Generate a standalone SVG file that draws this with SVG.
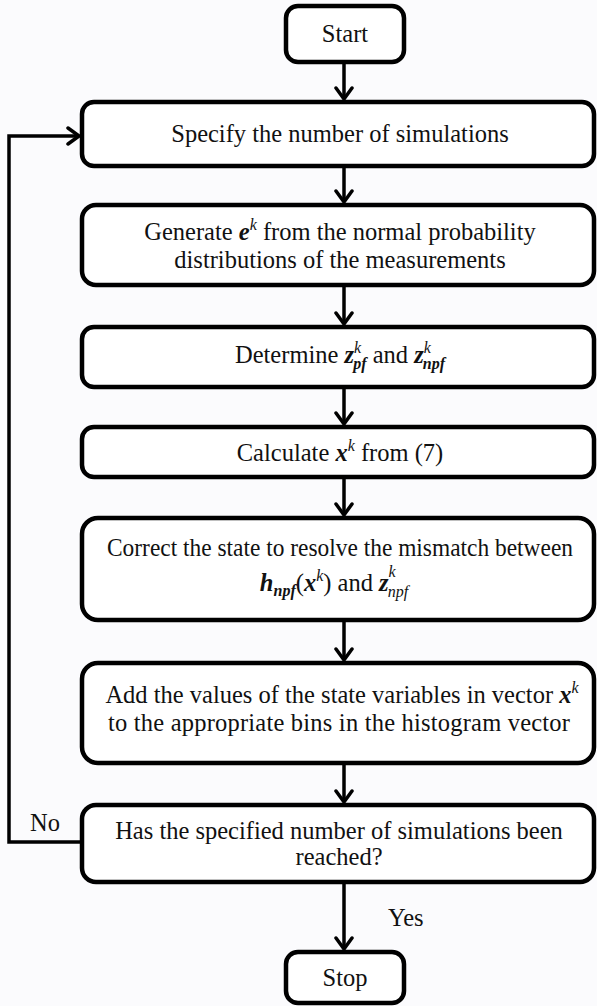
<svg xmlns="http://www.w3.org/2000/svg" width="597" height="1006" viewBox="0 0 597 1006">
<style>
.box{fill:#fff;stroke:#000;stroke-width:4.5}
.t{font-family:"Liberation Serif","Times New Roman",serif;font-size:24.5px;fill:#111;text-anchor:middle}
.lbl{font-family:"Liberation Serif","Times New Roman",serif;font-size:24.5px;fill:#111}
.m{font-weight:bold;font-style:italic}
.s{font-size:16px;font-style:italic}
.sb{font-size:16px;font-style:italic;font-weight:bold}
.c{fill:none;stroke:#000;stroke-width:3.5}
</style>
<defs>
<marker id="ah" markerUnits="userSpaceOnUse" markerWidth="24" markerHeight="24" refX="13" refY="10" orient="auto">
<path d="M2,2 L13,10 L2,18" fill="none" stroke="#000" stroke-width="3.5" stroke-linecap="round" stroke-linejoin="round"/>
</marker>
</defs>
<rect width="597" height="1006" fill="#fbfbfd"/>
<g id="connectors">
<path class="c" d="M344,62 V99" marker-end="url(#ah)"/>
<path class="c" d="M344,166 V202" marker-end="url(#ah)"/>
<path class="c" d="M344,285 V324" marker-end="url(#ah)"/>
<path class="c" d="M344,387 V424" marker-end="url(#ah)"/>
<path class="c" d="M344,477 V515" marker-end="url(#ah)"/>
<path class="c" d="M344,620 V660" marker-end="url(#ah)"/>
<path class="c" d="M344,763 V802" marker-end="url(#ah)"/>
<path class="c" d="M344,882 V949" marker-end="url(#ah)"/>
<path class="c" d="M82,842 H9 V136 H79" marker-end="url(#ah)"/>
<text class="lbl" x="30" y="831">No</text>
<text class="lbl" x="388" y="926">Yes</text>
</g>
<g id="start">
<rect class="box" x="286" y="6" width="118" height="56" rx="12"/>
<text class="t" x="345" y="42">Start</text>
</g>
<g id="specify">
<rect class="box" x="82" y="102" width="512" height="64" rx="12"/>
<text class="t" x="340" y="142">Specify the number of simulations</text>
</g>
<g id="generate">
<rect class="box" x="82" y="205" width="512" height="80" rx="14"/>
<text class="t" x="340" y="240">Generate <tspan class="m">e</tspan><tspan class="s" dy="-10">k</tspan><tspan dy="10">  from the normal probability</tspan></text>
<text class="t" x="340" y="268">distributions of the measurements</text>
</g>
<g id="determine">
<rect class="box" x="82" y="327" width="512" height="60" rx="12"/>
<text class="t" x="340" y="363">Determine <tspan class="m">z</tspan><tspan class="s" dy="-10">k</tspan><tspan class="sb" dx="-8" dy="16">pf</tspan><tspan dy="-6"> and </tspan><tspan class="m">z</tspan><tspan class="s" dy="-10">k</tspan><tspan class="sb" dx="-8" dy="16">npf</tspan></text>
</g>
<g id="calculate">
<rect class="box" x="82" y="427" width="512" height="50" rx="12"/>
<text class="t" x="340" y="461">Calculate <tspan class="m">x</tspan><tspan class="s" dy="-10">k</tspan><tspan dy="10"> from (7)</tspan></text>
</g>
<g id="correct">
<rect class="box" x="82" y="518" width="512" height="102" rx="16"/>
<text class="t" x="340" y="556" textLength="466" lengthAdjust="spacingAndGlyphs">Correct the state to resolve the mismatch between</text>
<text class="t" x="334" y="591"><tspan class="m">h</tspan><tspan class="sb" dy="5">npf</tspan><tspan dy="-5">(</tspan><tspan class="m">x</tspan><tspan class="s" dy="-10">k</tspan><tspan dy="10">) and </tspan><tspan class="m">z</tspan><tspan class="s" dy="-14">k</tspan><tspan class="s" dx="-8" dy="20">npf</tspan></text>
</g>
<g id="add">
<rect class="box" x="82" y="663" width="512" height="100" rx="16"/>
<text class="t" x="342" y="703">Add the values of the state variables in vector <tspan class="m">x</tspan><tspan class="s" dy="-10">k</tspan></text>
<text class="t" x="339" y="731" textLength="462" lengthAdjust="spacing">to the appropriate bins in the histogram vector</text>
</g>
<g id="check">
<rect class="box" x="82" y="805" width="512" height="77" rx="14"/>
<text class="t" x="339" y="839">Has the specified number of simulations been</text>
<text class="t" x="339" y="865">reached?</text>
</g>
<g id="stop">
<rect class="box" x="286" y="952" width="118" height="51" rx="12"/>
<text class="t" x="345" y="986">Stop</text>
</g>
</svg>
